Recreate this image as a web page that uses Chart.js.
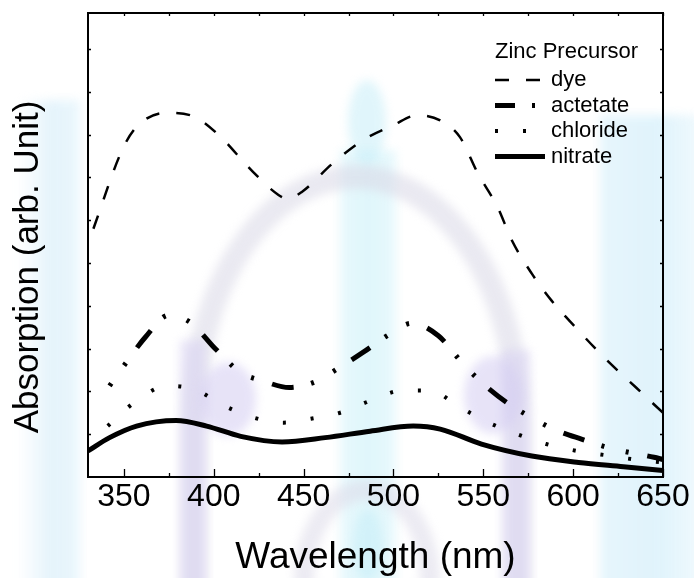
<!DOCTYPE html>
<html>
<head>
<meta charset="utf-8">
<title>Absorption spectra</title>
<script src="https://cdn.jsdelivr.net/npm/chart.js@4.4.0/dist/chart.umd.min.js"></script>
<style>
  html, body { margin: 0; padding: 0; background: #fff; }
  #wrap { position: relative; width: 694px; height: 578px; overflow: hidden; }
  #absChart { position: absolute; left: 0; top: 0; z-index: 2; }
  /* faint, blurry watermark behind the plot */
  .wm { position: absolute; z-index: 1; filter: blur(5px); opacity: 0.55; }
  .band-l { left: 18px; top: 100px; width: 62px; height: 500px;
            background: linear-gradient(to right, rgba(205,233,248,0), #cfeaf8 55%, #dcf1fb); }
  .band-r { left: 600px; top: 115px; width: 100px; height: 480px;
            background: linear-gradient(to right, #d3eefa, #c7eaf9 60%, rgba(210,238,250,0.6)); }
  .arch { left: 182px; top: 165px; width: 300px; height: 620px; border: 24px solid #d9d8e6;
          border-radius: 50% 50% 0 0 / 38% 38% 0 0; }
  .body { left: 340px; top: 150px; width: 56px; height: 440px;
          background: linear-gradient(to right, #d6f3fa, #c6f0f9 50%, #d6f3fa); }
  .head { left: 348px; top: 80px; width: 38px; height: 84px; border-radius: 50%; background: #c8eef8; }
  .blob-l { left: 200px; top: 362px; width: 56px; height: 74px; border-radius: 50%; background: #d4cdf2; }
  .blob-r { left: 464px; top: 356px; width: 58px; height: 78px; border-radius: 50%; background: #d4cdf2; }
  .leg-l { left: 180px; top: 340px; width: 26px; height: 260px; background: #d8d2f2; }
  .leg-r { left: 502px; top: 350px; width: 28px; height: 250px; background: #d8d2f2; }
  .low { left: 294px; top: 480px; width: 106px; height: 160px; border: 20px solid #dddbe9; border-radius: 50%; }
  .eye { left: 353px; top: 510px; width: 30px; height: 70px; border-radius: 50%; background: #c8eef8; }
</style>
</head>
<body>
<div id="wrap">
  <div class="wm band-l"></div>
  <div class="wm band-r"></div>
  <div class="wm body"></div>
  <div class="wm head"></div>
  <div class="wm arch"></div>
  <div class="wm leg-l"></div>
  <div class="wm leg-r"></div>
  <div class="wm blob-l"></div>
  <div class="wm blob-r"></div>
  <div class="wm low"></div>
  <div class="wm eye"></div>
  <canvas id="absChart" width="694" height="578"></canvas>
</div>
<script>
// values (arb. units, one y tick = 10)
var dyeNm = [333, 349, 357, 374, 389, 404, 419, 436, 441, 449, 466, 483, 500, 513, 526, 537, 547, 558, 566, 577, 588, 603, 618, 635, 650];
var dyeAbs = [58, 76.4, 81.8, 85.1, 84.2, 79.4, 72.5, 65.9, 65.0, 66.6, 73.2, 78.7, 82.2, 84.5, 83.3, 79.4, 70.9, 63.0, 55.2, 47.5, 41.2, 34.2, 27.6, 20.9, 15.0];

var acetateNm = [342, 350, 362, 375, 387, 401, 415, 427, 442, 458, 467, 483, 498, 510, 525, 538, 548, 563, 578, 589, 605, 620, 645, 650];
var acetateAbs = [21.3, 26.0, 32.7, 37.8, 36.1, 29.9, 24.4, 22.5, 20.9, 22.5, 24.8, 29.1, 33.4, 35.9, 33.0, 26.8, 22.5, 17.4, 13.6, 11.2, 8.8, 6.8, 4.6, 4.1];

var chlorideNm = [341, 357, 374, 389, 406, 422, 439, 454, 471, 487, 505, 520, 537, 553, 569, 585, 602, 618, 634, 650];
var chlorideAbs = [11.9, 17.8, 21.3, 20.5, 16.6, 13.9, 12.7, 13.6, 15.1, 17.8, 20.2, 20.2, 16.3, 12.7, 10.0, 7.7, 6.1, 5.1, 4.1, 3.4];

var nitrateNm = [330, 342, 357, 379, 396, 415, 438, 462, 487, 511, 526, 549, 577, 603, 628, 650];
var nitrateAbs = [6.1, 9.2, 11.9, 13.2, 11.9, 9.5, 8.2, 9.2, 10.7, 11.9, 11.2, 7.7, 4.9, 3.4, 2.4, 1.5];

var xTickValues = [350, 375, 400, 425, 450, 475, 500, 525, 550, 575, 600, 625, 650];
var yTickValues = [10, 20, 30, 40, 50, 60, 70, 80, 90, 100];

var legendTitle = 'Zinc Precursor';
var xTitle = 'Wavelength (nm)';
var yTitle = 'Absorption (arb. Unit)';

var FONT = '"Liberation Sans", Arial, Helvetica, sans-serif';

function pairs(xs, ys) {
    return xs.map(function(x, i) { return { x: x, y: ys[i] }; });
}

// frame box + inward ticks on all four sides
var frameTicks = {
    id: 'frameTicks',
    afterDatasetsDraw: function(chart) {
        var ctx = chart.ctx, a = chart.chartArea;
        var xs = chart.scales.x, ys = chart.scales.y;
        ctx.save();
        ctx.strokeStyle = '#000';
        ctx.lineWidth = 1.3;
        ctx.beginPath();
        xTickValues.forEach(function(v) {
            var px = Math.round(xs.getPixelForValue(v)) + 0.5;
            var len = v % 50 === 0 ? 8 : 4;
            ctx.moveTo(px, a.bottom); ctx.lineTo(px, a.bottom - len);
            ctx.moveTo(px, a.top); ctx.lineTo(px, a.top + 3);
        });
        yTickValues.forEach(function(v) {
            var py = Math.round(ys.getPixelForValue(v)) + 0.5;
            ctx.moveTo(a.left, py); ctx.lineTo(a.left + 3, py);
            ctx.moveTo(a.right, py); ctx.lineTo(a.right - 3, py);
        });
        ctx.stroke();
        ctx.lineWidth = 2;
        ctx.strokeRect(a.left, a.top, a.right - a.left, a.bottom - a.top);
        ctx.restore();
    }
};

// rotated y title, placed like the original (a bit below the plot middle)
var yTitlePlugin = {
    id: 'yTitle',
    afterDraw: function(chart) {
        var ctx = chart.ctx;
        ctx.save();
        ctx.translate(28, 267);
        ctx.rotate(-Math.PI / 2);
        ctx.font = '35px ' + FONT;
        ctx.fillStyle = '#000';
        ctx.textAlign = 'center';
        ctx.textBaseline = 'middle';
        ctx.fillText(yTitle, 0, 0);
        ctx.restore();
    }
};

// legend inside the plot, top right
var insideLegend = {
    id: 'insideLegend',
    afterDraw: function(chart) {
        var ctx = chart.ctx;
        var x0 = 495, lineW = 50, rowH = 25.5, y0 = 80;
        ctx.save();
        ctx.font = '22px ' + FONT;
        ctx.fillStyle = '#000';
        ctx.textBaseline = 'middle';
        ctx.textAlign = 'left';
        ctx.fillText(legendTitle, x0, 52);
        chart.data.datasets.forEach(function(ds, i) {
            var y = y0 + i * rowH;
            ctx.beginPath();
            ctx.strokeStyle = ds.borderColor;
            ctx.lineWidth = ds.borderWidth;
            ctx.setLineDash(ds.legendDash || ds.borderDash || []);
            ctx.moveTo(x0, y);
            ctx.lineTo(x0 + lineW, y);
            ctx.stroke();
            ctx.setLineDash([]);
            ctx.fillText(ds.label, x0 + lineW + 6, y);
        });
        ctx.restore();
    }
};

new Chart(document.getElementById('absChart').getContext('2d'), {
    type: 'line',
    data: {
        datasets: [
            {
                label: 'dye',
                data: pairs(dyeNm, dyeAbs),
                borderColor: '#000',
                borderWidth: 2.5,
                borderDash: [14, 17],
                cubicInterpolationMode: 'monotone',
                pointRadius: 0,
                fill: false
            },
            {
                label: 'actetate',
                data: pairs(acetateNm, acetateAbs),
                borderColor: '#000',
                borderWidth: 5,
                borderDash: [22, 18, 3, 22, 3, 19],
                borderDashOffset: 40,   // curve starts on the dots, as in the original
                legendDash: [20, 17, 3, 20],
                cubicInterpolationMode: 'monotone',
                pointRadius: 0,
                fill: false
            },
            {
                label: 'chloride',
                data: pairs(chlorideNm, chlorideAbs),
                borderColor: '#000',
                borderWidth: 4,
                borderDash: [3, 25],
                cubicInterpolationMode: 'monotone',
                pointRadius: 0,
                fill: false
            },
            {
                label: 'nitrate',
                data: pairs(nitrateNm, nitrateAbs),
                borderColor: '#000',
                borderWidth: 5,
                cubicInterpolationMode: 'monotone',
                pointRadius: 0,
                fill: false
            }
        ]
    },
    options: {
        responsive: false,
        animation: false,
        events: [],
        layout: { padding: { left: 88, top: 13, right: 31, bottom: 0 } },
        plugins: {
            legend: { display: false },
            tooltip: { enabled: false }
        },
        scales: {
            x: {
                type: 'linear',
                min: 330,
                max: 650,
                grid: { display: false, drawTicks: false },
                border: { display: false },
                afterBuildTicks: function(scale) {
                    scale.ticks = xTickValues.map(function(v) { return { value: v }; });
                },
                afterFit: function(scale) { scale.height = 101; },
                ticks: {
                    autoSkip: false,
                    maxRotation: 0,
                    padding: 1,
                    color: '#000',
                    font: { family: FONT, size: 32 },
                    callback: function(v) { return v % 50 === 0 ? String(v) : ''; }
                },
                title: {
                    display: true,
                    text: xTitle,
                    color: '#000',
                    font: { family: FONT, size: 37, lineHeight: 1 },
                    padding: { top: 0, bottom: 1.5 }
                }
            },
            y: {
                display: false,
                min: 0,
                max: 108.4
            }
        }
    },
    plugins: [frameTicks, yTitlePlugin, insideLegend]
});
</script>
</body>
</html>
